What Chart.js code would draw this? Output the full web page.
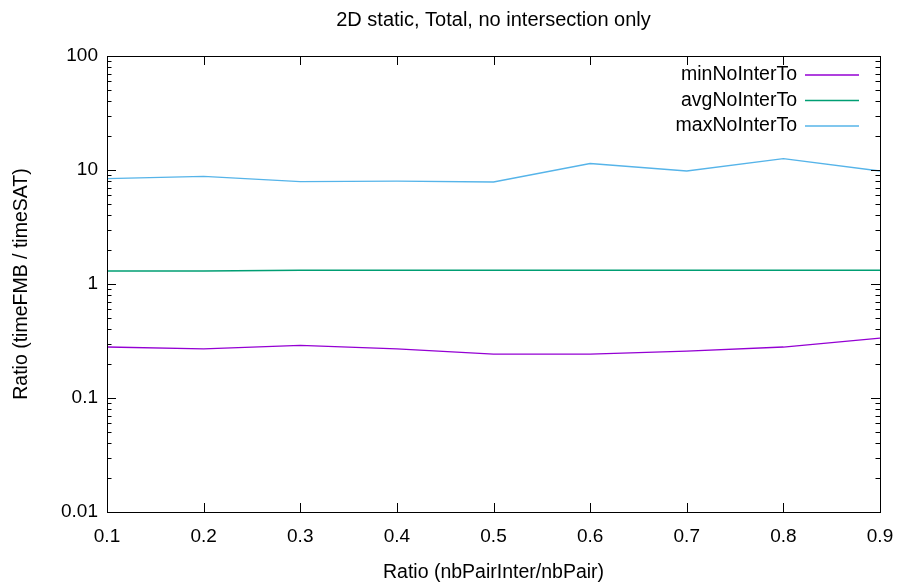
<!DOCTYPE html>
<html>
<head>
<meta charset="utf-8">
<script src="https://cdn.jsdelivr.net/npm/chart.js@4/dist/chart.umd.min.js"></script>
<style>
    html, body { margin: 0; padding: 0; background: #fff; }
    #wrap { width: 898px; height: 588px; }
</style>
</head>
<body>
<div id="wrap"><canvas id="ratioChart"></canvas></div>
<script>
/* ===== Data ===== */
const ratios = [0.1, 0.2, 0.3, 0.4, 0.5, 0.6, 0.7, 0.8, 0.9];
const minNoInterTo = [0.28, 0.27, 0.29, 0.27, 0.243, 0.243, 0.258, 0.28, 0.335];
const avgNoInterTo = [1.30, 1.30, 1.32, 1.32, 1.32, 1.32, 1.32, 1.32, 1.32];
const maxNoInterTo = [8.4, 8.8, 7.9, 8.0, 7.85, 11.4, 9.8, 12.6, 9.8];
const yTicks = [0.01, 0.1, 1, 10, 100];

const seriesNames = ['minNoInterTo', 'avgNoInterTo', 'maxNoInterTo'];
const seriesColors = ['#9400d3', '#009e73', '#56b4e9'];

const FONT = 'Liberation Sans, Arial, sans-serif';

const toPoints = (vals) => vals.map((v, i) => ({ x: ratios[i], y: v }));

/* gnuplot-like frame: border, inward ticks on all sides, legend, title */
const gnuFrame = {
    id: 'gnuFrame',
    afterDraw(chart) {
        const { ctx, chartArea: a, scales } = chart;
        const xs = scales.x, ys = scales.y;
        ctx.save();
        ctx.strokeStyle = '#000';
        ctx.lineWidth = 1;
        ctx.beginPath();
        // x ticks (bottom and top)
        ratios.forEach(r => {
            const px = Math.round(xs.getPixelForValue(r)) + 0.5;
            ctx.moveTo(px, a.bottom); ctx.lineTo(px, a.bottom - 9);
            ctx.moveTo(px, a.top); ctx.lineTo(px, a.top + 9);
        });
        // y major + minor ticks (left and right)
        yTicks.forEach(base => {
            for (let m = 1; m <= 9; m++) {
                const v = base * m;
                if (v > 100) break;
                const len = m === 1 ? 9 : 4.5;
                const py = Math.round(ys.getPixelForValue(v)) + 0.5;
                ctx.moveTo(a.left, py); ctx.lineTo(a.left + len, py);
                ctx.moveTo(a.right, py); ctx.lineTo(a.right - len, py);
            }
        });
        ctx.stroke();
        ctx.strokeRect(Math.round(a.left) + 0.5, Math.round(a.top) + 0.5,
            Math.round(a.right - a.left), Math.round(a.bottom - a.top));

        // legend: text right-aligned, then line sample
        ctx.font = '19.5px ' + FONT;
        ctx.fillStyle = '#000';
        ctx.textAlign = 'right';
        ctx.textBaseline = 'middle';
        ctx.lineWidth = 1.3;
        seriesNames.forEach((name, i) => {
            const y = 75 + i * 25.5;
            ctx.fillText(name, 797, y);
            ctx.beginPath();
            ctx.strokeStyle = seriesColors[i];
            ctx.moveTo(805, y);
            ctx.lineTo(859, y);
            ctx.stroke();
        });

        // title, centred on the plot area
        ctx.font = '20px ' + FONT;
        ctx.textAlign = 'center';
        ctx.fillText('2D static, Total, no intersection only', (a.left + a.right) / 2, 20);
        ctx.restore();
    }
};

new Chart(document.getElementById('ratioChart'), {
    type: 'line',
    data: {
        datasets: [minNoInterTo, avgNoInterTo, maxNoInterTo].map((vals, i) => ({
            label: seriesNames[i],
            data: toPoints(vals),
            borderColor: seriesColors[i],
            borderWidth: 1.3,
            pointRadius: 0,
            tension: 0,
            fill: false
        }))
    },
    options: {
        responsive: true,
        maintainAspectRatio: false,
        animation: false,
        layout: { padding: { top: 56, right: 18, bottom: 0, left: 0 } },
        plugins: {
            legend: { display: false },
            title: { display: false },
            tooltip: { enabled: false }
        },
        scales: {
            x: {
                type: 'linear',
                min: 0.1,
                max: 0.9,
                afterBuildTicks: (s) => { s.ticks = ratios.map(v => ({ value: v })); },
                afterFit: (s) => { s.height = 76; s.paddingLeft = 0; s.paddingRight = 0; },
                border: { display: false },
                grid: { display: false, drawTicks: false },
                ticks: {
                    padding: 13,
                    color: '#000',
                    font: { family: FONT, size: 19 },
                    maxRotation: 0,
                    callback: (v) => v.toFixed(1)
                },
                title: {
                    display: true,
                    text: 'Ratio (nbPairInter/nbPair)',
                    color: '#000',
                    font: { family: FONT, size: 19.5 },
                    padding: { top: 0, bottom: 4 }
                }
            },
            y: {
                type: 'logarithmic',
                min: 0.01,
                max: 100,
                afterBuildTicks: (s) => { s.ticks = yTicks.map(v => ({ value: v })); },
                afterFit: (s) => { s.width = 107; s.paddingTop = 0; s.paddingBottom = 0; },
                border: { display: false },
                grid: { display: false, drawTicks: false },
                ticks: {
                    padding: 9,
                    color: '#000',
                    font: { family: FONT, size: 19 },
                    callback: (v) => String(v)
                },
                title: {
                    display: true,
                    text: 'Ratio (timeFMB / timeSAT)',
                    color: '#000',
                    font: { family: FONT, size: 19.5 },
                    padding: { top: 10, bottom: 0 }
                }
            }
        }
    },
    plugins: [gnuFrame]
});
</script>
</body>
</html>
